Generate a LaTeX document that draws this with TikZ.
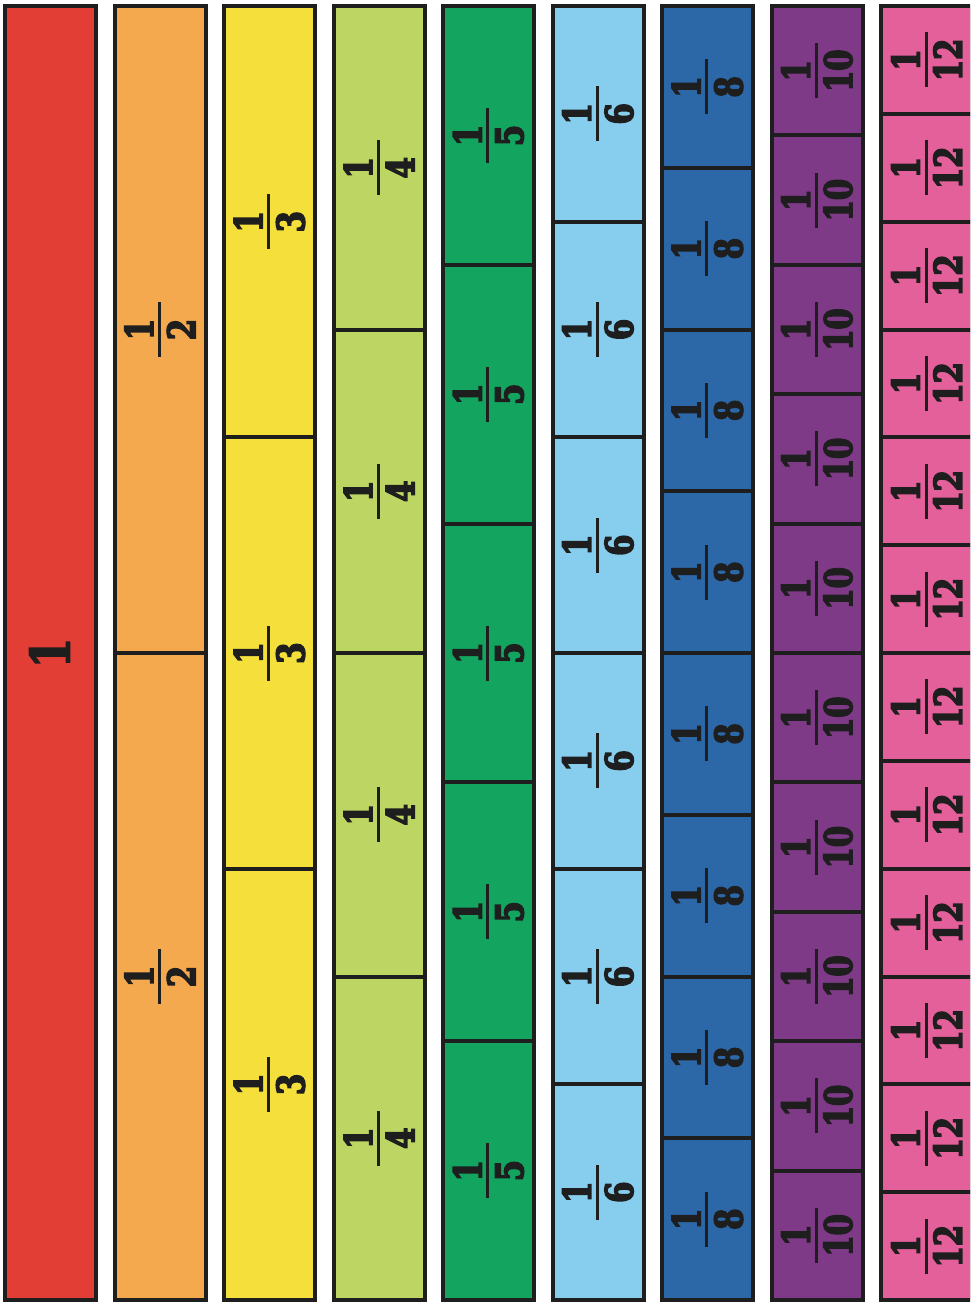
\documentclass[tikz,border=0pt]{standalone}
\usepackage{fontspec}
\newfontfamily\digitfont[FakeStretch=0.8]{DejaVu Serif Bold}
\definecolor{ink}{HTML}{1E1E1E}
\definecolor{c0}{HTML}{E23E36}
\definecolor{c1}{HTML}{F5A94F}
\definecolor{c2}{HTML}{F5E03B}
\definecolor{c3}{HTML}{BDD563}
\definecolor{c4}{HTML}{13A560}
\definecolor{c5}{HTML}{87CEEE}
\definecolor{c6}{HTML}{2C67A8}
\definecolor{c7}{HTML}{7E3A86}
\definecolor{c8}{HTML}{E4609A}
\newcommand\heavy[1]{\special{pdf:literal direct 2 Tr 1.6 w 0.118 0.118 0.118 RG}#1\special{pdf:literal direct 0 Tr}}
\newcommand\fracbox[1]{\vbox{\digitfont\fontsize{38}{38}\selectfont\offinterlineskip\halign{\hfil##\hfil\cr \heavy{1}\cr\noalign{\kern5pt}\rule{55pt}{3pt}\cr\noalign{\kern6pt}\heavy{#1}\cr}}}
\newcommand\wholebox{{\digitfont\fontsize{54}{54}\selectfont\heavy{1}}}
\tikzset{
  border/.style={draw=ink, line width=4pt},
  fraclabel/.style={inner sep=0pt, text=ink, rotate=90},
  wholelabel/.style={inner sep=0pt, text=ink, rotate=90}
}
\begin{document}
\begin{tikzpicture}[x=1pt,y=-1pt]
\useasboundingbox (0,0) rectangle (970,1305);
\clip (0,0) rectangle (970,1305);
% whole strip
\fill[c0] (5,6) rectangle (96,1300);
\draw[border] (5,6) rectangle (96,1300);
\node[wholelabel] (whole) at (49.5,653) {\wholebox};
% fraction strips
\foreach \i/\n/\col in {1/2/c1,2/3/c2,3/4/c3,4/5/c4,5/6/c5,6/8/c6,7/10/c7,8/12/c8}{
  \pgfmathsetmacro\xl{5+109.5*\i}
  \pgfmathsetmacro\xr{96+109.5*\i}
  \pgfmathsetmacro\xc{50.5+109.5*\i}
  \fill[\col] (\xl,6) rectangle (\xr,1300);
  \pgfmathtruncatemacro\nm{\n-1}
  \foreach \k in {1,...,\nm}{
    \pgfmathsetmacro\yy{6+1294*\k/\n}
    \draw[border] (\xl,\yy) -- (\xr,\yy);
  }
  \foreach \k in {0,...,\nm}{
    \pgfmathsetmacro\yc{6+1294*(\k+0.5)/\n}
    \node[fraclabel] (f\i-\k) at (\xc,\yc) {\fracbox{\n}};
  }
  \draw[border] (\xl,6) rectangle (\xr,1300);
}
\end{tikzpicture}
\end{document}
